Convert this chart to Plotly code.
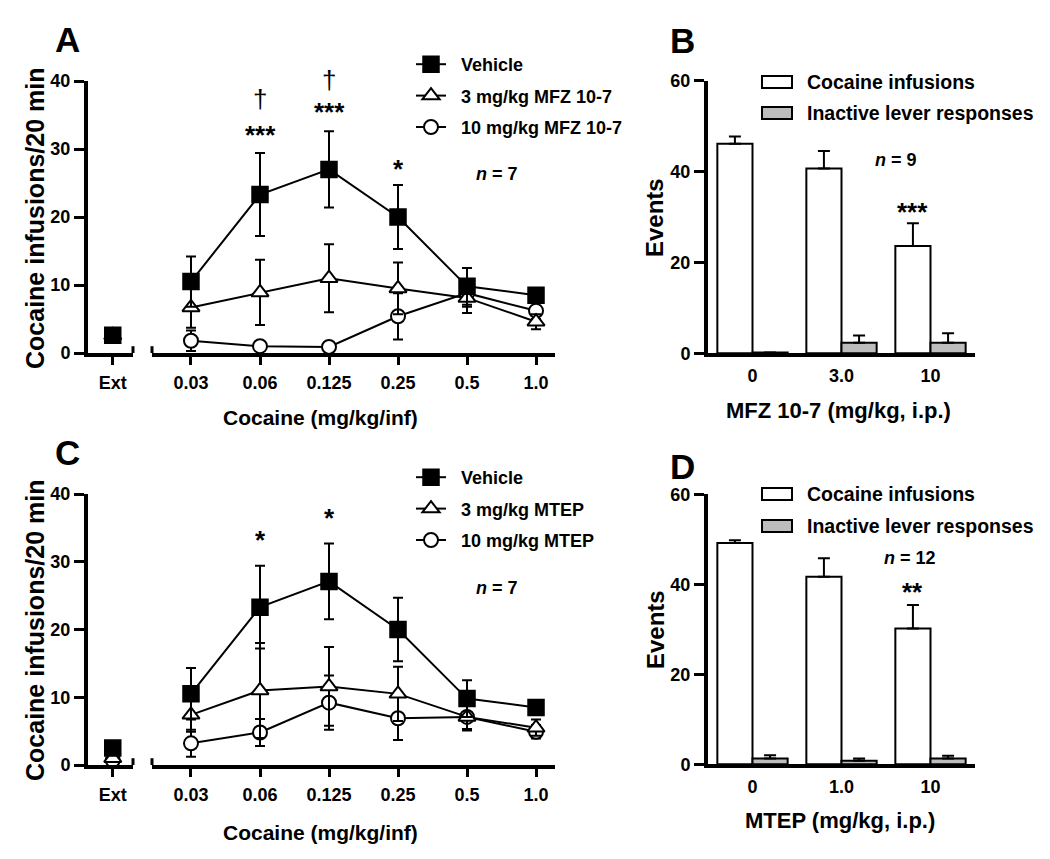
import plotly.graph_objects as go

W, H = 1050, 859
FONT = "Liberation Sans"

# ---------------- data ----------------
doses = ['0.03', '0.06', '0.125', '0.25', '0.5', '1.0']
ext_cat = ['Ext']

# Panel A (MFZ 10-7)
a_names = ['Vehicle', '3 mg/kg MFZ 10-7', '10 mg/kg MFZ 10-7']
a_ext = [2.6, 2.6, 2.5]
a_ext_err = [0.6, 0.5, 0.6]
a_veh = [10.5, 23.3, 27.0, 20.0, 9.8, 8.5]
a_veh_err = [3.7, 6.1, 5.6, 4.7, 2.7, 1.0]
a_low = [6.7, 8.9, 11.0, 9.5, 8.1, 4.6]
a_low_err = [3.0, 4.8, 5.0, 3.8, 2.2, 1.1]
a_high = [1.8, 1.0, 0.9, 5.4, 8.8, 6.2]
a_high_err = [1.5, 0.7, 0.5, 3.4, 2.0, 1.2]

# Panel C (MTEP)
c_names = ['Vehicle', '3 mg/kg MTEP', '10 mg/kg MTEP']
c_ext = [2.5, 1.0, 0.7]
c_ext_err = [0.6, 0.4, 0.4]
c_veh = [10.5, 23.3, 27.1, 20.0, 9.8, 8.5]
c_veh_err = [3.8, 6.1, 5.6, 4.7, 2.7, 1.0]
c_low = [7.4, 11.0, 11.6, 10.5, 7.1, 5.5]
c_low_err = [2.5, 7.0, 5.8, 4.0, 1.8, 1.2]
c_high = [3.2, 4.8, 9.2, 6.9, 7.1, 4.9]
c_high_err = [2.0, 2.0, 4.0, 3.2, 2.0, 1.0]

# Panel B
b_cats = ['0', '3.0', '10']
b_coc = [46.1, 40.7, 23.6]
b_coc_err = [1.6, 3.8, 5.0]
b_inact = [0.2, 2.3, 2.3]
b_inact_err = [0.0, 1.6, 2.1]

# Panel D
d_cats = ['0', '1.0', '10']
d_coc = [49.2, 41.7, 30.2]
d_coc_err = [0.6, 4.1, 5.2]
d_inact = [1.3, 0.8, 1.3]
d_inact_err = [0.7, 0.5, 0.6]

bar_names = ['Cocaine infusions', 'Inactive lever responses']

# ---------------- helpers ----------------
def px(p):
    return p / W

def py(p):
    return 1 - p / H

def bfont(size, weight='bold', style='normal'):
    return dict(family=FONT, size=size, color='black', weight=weight, style=style)

fig = go.Figure()

styles = [
    dict(symbol='square', size=16, color='black', line=dict(color='black', width=1.5)),
    dict(symbol='triangle-up', size=15, color='white', line=dict(color='black', width=2)),
    dict(symbol='circle', size=14, color='white', line=dict(color='black', width=2)),
]


def add_line_panel(names, ext, ext_err, series, errs, xe, xm, ya, legend):
    for i in [2, 1, 0]:
        st = styles[i]
        mk = dict(size=st['size'], symbol=st['symbol'], color=st['color'], line=st['line'])
        fig.add_trace(go.Scatter(
            x=doses, y=series[i], xaxis=xm, yaxis=ya, name='\u00a0\u00a0' + names[i],
            mode='lines+markers', legend=legend, legendrank=i + 1, legendgroup=legend + str(i),
            line=dict(color='black', width=2), marker=mk,
            error_y=dict(type='data', array=errs[i], color='black', thickness=2, width=5),
            cliponaxis=False))
        fig.add_trace(go.Scatter(
            x=ext_cat, y=[ext[i]], xaxis=xe, yaxis=ya, showlegend=False, mode='markers',
            marker=mk,
            error_y=dict(type='data', array=[ext_err[i]], color='black', thickness=2, width=5),
            cliponaxis=False))


add_line_panel(a_names, a_ext, a_ext_err, [a_veh, a_low, a_high],
               [a_veh_err, a_low_err, a_high_err], 'x', 'x2', 'y', 'legend')
add_line_panel(c_names, c_ext, c_ext_err, [c_veh, c_low, c_high],
               [c_veh_err, c_low_err, c_high_err], 'x3', 'x4', 'y2', 'legend2')


def add_bar_panel(cats, coc, coc_err, ina, ina_err, xa, ya):
    fig.add_trace(go.Bar(
        x=cats, y=coc, xaxis=xa, yaxis=ya, name=bar_names[0], showlegend=False,
        marker=dict(color='white', line=dict(color='black', width=2)),
        error_y=dict(type='data', array=coc_err, arrayminus=[0] * len(cats), symmetric=False,
                     color='black', thickness=2, width=6)))
    fig.add_trace(go.Bar(
        x=cats, y=ina, xaxis=xa, yaxis=ya, name=bar_names[1], showlegend=False,
        marker=dict(color='#bdbdbd', line=dict(color='black', width=2)),
        error_y=dict(type='data', array=ina_err, arrayminus=[0] * len(cats), symmetric=False,
                     color='black', thickness=2, width=6)))


add_bar_panel(b_cats, b_coc, b_coc_err, b_inact, b_inact_err, 'x5', 'y3')
add_bar_panel(d_cats, d_coc, d_coc_err, d_inact, d_inact_err, 'x6', 'y4')

# ---------------- axes ----------------
tickfont = bfont(18)
axis_common = dict(showline=True, linecolor='black', linewidth=4, showgrid=False, zeroline=False,
                   tickfont=tickfont, ticks='outside', tickcolor='black', tickwidth=3, automargin=False)

fig.update_layout(
    xaxis=dict(axis_common, domain=[px(88), px(133)], anchor='y', type='category',
               categoryarray=ext_cat, range=[-0.55, 0.45], ticklen=8, ticklabelstandoff=2),
    xaxis2=dict(axis_common, domain=[px(152), px(555)], anchor='y', type='category',
                categoryarray=doses, range=[-0.565, 5.275], ticklen=8, ticklabelstandoff=2),
    yaxis=dict(axis_common, domain=[py(353), py(81)], anchor='x', range=[0, 40], dtick=10, ticklen=10),
    xaxis3=dict(axis_common, domain=[px(88), px(133)], anchor='y2', type='category',
                categoryarray=ext_cat, range=[-0.55, 0.45], ticklen=8, ticklabelstandoff=2),
    xaxis4=dict(axis_common, domain=[px(152), px(555)], anchor='y2', type='category',
                categoryarray=doses, range=[-0.565, 5.275], ticklen=8, ticklabelstandoff=2),
    yaxis2=dict(axis_common, domain=[py(765), py(494)], anchor='x3', range=[0, 40], dtick=10, ticklen=10),
    xaxis5=dict(axis_common, domain=[px(708), px(975)], anchor='y3', type='category',
                categoryarray=b_cats, range=[-0.5, 2.5], ticks='', ticklabelstandoff=3),
    yaxis3=dict(axis_common, domain=[py(353.3), py(80.7)], anchor='x5', range=[0, 60], dtick=20, ticklen=10),
    xaxis6=dict(axis_common, domain=[px(708), px(975)], anchor='y4', type='category',
                categoryarray=d_cats, range=[-0.5, 2.5], ticks='', ticklabelstandoff=3),
    yaxis4=dict(axis_common, domain=[py(764.3), py(494.3)], anchor='x6', range=[0, 60], dtick=20, ticklen=10),
)

# ---------------- legends ----------------
leg_common = dict(font=bfont(18), bgcolor='rgba(0,0,0,0)', borderwidth=0, xanchor='left', yanchor='top',
                  tracegroupgap=5, itemwidth=30, itemclick=False)
fig.update_layout(
    legend=dict(leg_common, x=px(411), y=py(46)),
    legend2=dict(leg_common, x=px(411), y=py(459)),
)

shapes = []
annotations = []

# manual legend for bar panels
bar_leg_rows = [(82, 113), (494, 526)]
for r1, r2 in bar_leg_rows:
    for yc, fill, name in [(r1, 'white', bar_names[0]), (r2, '#bdbdbd', bar_names[1])]:
        shapes.append(dict(type='rect', xref='paper', yref='paper', x0=px(762), x1=px(792),
                           y0=py(yc + 6), y1=py(yc - 6), fillcolor=fill,
                           line=dict(color='black', width=2)))
        annotations.append(dict(xref='paper', yref='paper', x=px(805), y=py(yc), text=name,
                                showarrow=False, xanchor='left', yanchor='middle', font=bfont(19.5)))

# broken-axis end caps
for xa_e, xa_m, ya in [('x', 'x2', 'y'), ('x3', 'x4', 'y2')]:
    shapes.append(dict(type='line', xref=xa_e + ' domain', yref=ya, x0=1, x1=1, y0=-1.0, y1=1.0,
                       line=dict(color='black', width=3)))
    shapes.append(dict(type='line', xref=xa_m + ' domain', yref=ya, x0=0, x1=0, y0=-1.0, y1=1.0,
                       line=dict(color='black', width=3)))

# panel letters
for letter, x, y in [('A', 67, 39), ('B', 682, 40), ('C', 67, 452), ('D', 682, 466)]:
    annotations.append(dict(xref='paper', yref='paper', x=px(x), y=py(y), text=letter, showarrow=False,
                            xanchor='center', yanchor='middle', font=bfont(35)))

# axis titles
ytitle = 'Cocaine infusions/20 min'
for x, y, t, ang, size in [
    (35, 219, ytitle, -90, 25), (35, 631, ytitle, -90, 25),
    (320, 417, 'Cocaine (mg/kg/inf)', 0, 21), (320, 832, 'Cocaine (mg/kg/inf)', 0, 21),
    (655, 218, 'Events', -90, 24), (655, 630, 'Events', -90, 24),
    (838, 410, 'MFZ 10-7 (mg/kg, i.p.)', 0, 22), (840, 820, 'MTEP (mg/kg, i.p.)', 0, 22),
]:
    annotations.append(dict(xref='paper', yref='paper', x=px(x), y=py(y), text=t, showarrow=False,
                            textangle=ang, xanchor='center', yanchor='middle', font=bfont(size)))

# n labels
for x, y, t in [(497, 174, '<i>n</i> = 7'), (497, 588, '<i>n</i> = 7'),
                (896, 160, '<i>n</i> = 9'), (910, 558, '<i>n</i> = 12')]:
    annotations.append(dict(xref='paper', yref='paper', x=px(x), y=py(y), text=t, showarrow=False,
                            xanchor='center', yanchor='middle', font=bfont(18)))

# significance markers (x as category index; yshift in px keeps anchors inside the axis range)
sig = [
    ('x2', 'y', '0.06', 32.0, 0, '***', 26, 'bold', 0),
    ('x2', 'y', '0.125', 35.5, 0, '***', 26, 'bold', 0),
    ('x2', 'y', '0.25', 27.1, 0, '*', 26, 'bold', 0),
    ('x2', 'y', '0.06', 37.3, 0, '\u2020', 26, 'normal', 0),
    ('x2', 'y', '0.125', 39.5, 4, '\u2020', 26, 'normal', 0),
    ('x4', 'y2', '0.06', 33.2, 0, '*', 26, 'bold', 0),
    ('x4', 'y2', '0.125', 36.5, 0, '*', 26, 'bold', 0),
    ('x5', 'y3', '10', 31.0, 0, '***', 26, 'bold', -18),
    ('x6', 'y4', '10', 38.2, 0, '**', 26, 'bold', -18),
]
for xa, ya, xv, yv, ys, t, size, wt, xs in sig:
    cats = doses if xa in ('x2', 'x4') else (b_cats if xa == 'x5' else d_cats)
    annotations.append(dict(xref=xa, yref=ya, x=cats.index(xv), y=yv, text=t, showarrow=False,
                            xshift=xs, yshift=ys,
                            xanchor='center', yanchor='middle', font=bfont(size, weight=wt)))

fig.update_layout(
    width=W, height=H, margin=dict(l=0, r=0, t=0, b=0, pad=0, autoexpand=False),
    paper_bgcolor='white', plot_bgcolor='white',
    barmode='group', bargap=0.21, bargroupgap=0,
    shapes=shapes, annotations=annotations,
    font=dict(family=FONT, color='black'),
)

fig.write_html("out.html", config={'displayModeBar': False},
               post_script="document.body.style.margin='0';document.body.style.overflow='hidden';")
